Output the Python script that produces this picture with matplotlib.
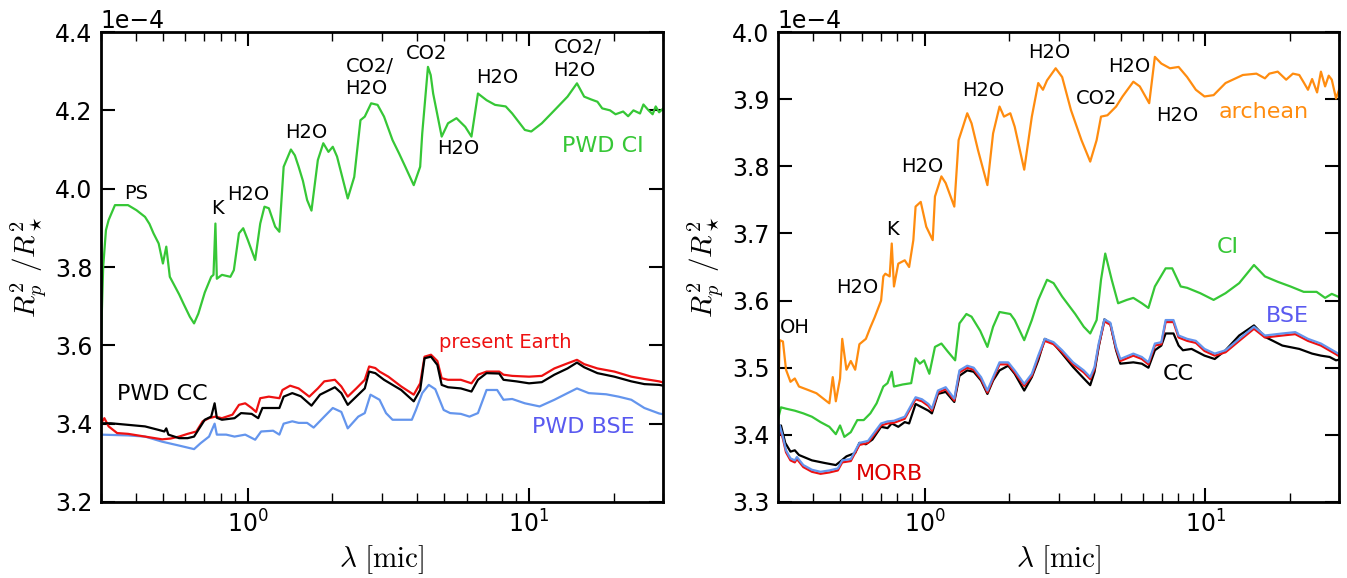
import matplotlib
matplotlib.use("Agg")
import matplotlib.pyplot as plt
from matplotlib.ticker import NullFormatter, MultipleLocator

# ---------------- data (wavelength in micron, transit depth in units of 1e-4) -------------
# Left panel
pwd_ci_wl = [0.300, 0.306, 0.313, 0.320, 0.337, 0.375, 0.402, 0.431, 0.447, 0.462, 0.482,
             0.499, 0.513, 0.528, 0.551, 0.570, 0.590, 0.622, 0.644, 0.667, 0.703, 0.741,
             0.755, 0.767, 0.776, 0.809, 0.867, 0.892, 0.930, 0.963, 1.0, 1.062,
             1.107, 1.146, 1.188, 1.251, 1.295, 1.341, 1.423, 1.47, 1.516, 1.57, 1.625, 1.684,
             1.774, 1.855, 1.935, 2.005, 2.076, 2.266, 2.39, 2.515, 2.605, 2.745,
             2.893, 3.05, 3.27, 3.45, 3.63, 3.89, 4.10, 4.17, 4.37, 4.47, 4.56, 4.89,
             5.15, 5.52, 5.93, 6.24, 6.58, 7.06, 7.57, 8.26, 8.71, 9.66,
             10.18, 11.1, 12.3, 13.7, 14.8, 15.7, 16.6, 17.5, 18.2, 19.4,
             20.3, 21.6, 22.5, 23.5, 24.8, 25.5, 26.6, 27.5, 28.2, 29.0, 30.0]
pwd_ci_val = [3.59, 3.80, 3.894, 3.92, 3.958, 3.958, 3.945, 3.928, 3.91, 3.886, 3.86,
              3.809, 3.852, 3.775, 3.75, 3.73, 3.707, 3.673, 3.656, 3.681, 3.735, 3.775,
              3.78, 3.911, 3.77, 3.78, 3.775, 3.792, 3.886, 3.899, 3.869, 3.818,
              3.911, 3.954, 3.95, 3.903, 3.89, 4.056, 4.10, 4.085, 4.056, 4.02, 3.971, 3.944,
              4.073, 4.116, 4.094, 4.107, 4.082, 3.975, 4.03, 4.175, 4.184, 4.218,
              4.214, 4.184, 4.124, 4.09, 4.056, 4.009, 4.056, 4.141, 4.311, 4.29, 4.243, 4.133,
              4.167, 4.18, 4.158, 4.133, 4.243, 4.226, 4.214, 4.21, 4.192, 4.15,
              4.146, 4.167, 4.20, 4.235, 4.269, 4.235, 4.228, 4.222, 4.205, 4.20,
              4.19, 4.197, 4.185, 4.20, 4.192, 4.215, 4.20, 4.19, 4.21, 4.195, 4.205]

earth_wl = [0.300, 0.309, 0.320, 0.343, 0.375, 0.431, 0.496, 0.531, 0.570, 0.611,
            0.656, 0.691, 0.728, 0.767, 0.809, 0.882, 0.930, 0.979, 1.032, 1.07,
            1.107, 1.188, 1.295, 1.328, 1.414, 1.516, 1.654, 1.774, 1.870, 2.04,
            2.15, 2.266, 2.43, 2.605, 2.70, 2.84, 2.94, 3.16, 3.51, 3.89,
            4.10, 4.25, 4.48, 4.72, 4.89, 5.15, 5.72, 6.24, 6.58, 7.06,
            7.83, 8.11, 8.71, 10.0, 11.1, 12.3, 13.7, 14.8, 15.7, 17.5,
            20.1, 23.1, 25.7, 29.0, 30.0]
earth_val = [3.40, 3.414, 3.393, 3.376, 3.374, 3.367, 3.36, 3.362, 3.367, 3.374,
             3.38, 3.406, 3.414, 3.418, 3.414, 3.423, 3.448, 3.452, 3.44, 3.43,
             3.465, 3.469, 3.465, 3.486, 3.497, 3.49, 3.469, 3.49, 3.508, 3.512,
             3.495, 3.469, 3.49, 3.512, 3.546, 3.542, 3.533, 3.52, 3.495, 3.474,
             3.503, 3.571, 3.576, 3.56, 3.516, 3.512, 3.512, 3.503, 3.525, 3.533,
             3.533, 3.525, 3.522, 3.52, 3.522, 3.541, 3.554, 3.563, 3.552, 3.541,
             3.533, 3.52, 3.514, 3.508, 3.505]

pwd_cc_wl = [0.300, 0.326, 0.375, 0.431, 0.482, 0.505, 0.513, 0.522, 0.570, 0.611,
             0.644, 0.679, 0.703, 0.741, 0.762, 0.776, 0.809, 0.897, 0.946, 1.032,
             1.089, 1.127, 1.23, 1.295, 1.341, 1.439, 1.543, 1.684, 1.806, 2.04,
             2.15, 2.266, 2.47, 2.605, 2.70, 2.84, 3.05, 3.51, 3.89, 4.10,
             4.25, 4.48, 4.72, 4.89, 5.15, 5.72, 6.24, 6.58, 7.06, 7.83,
             8.11, 9.01, 10.0, 11.1, 12.3, 13.7, 14.8, 15.7, 17.5, 20.1,
             23.1, 25.7, 29.0, 30.0]
pwd_cc_val = [3.401, 3.401, 3.397, 3.393, 3.384, 3.38, 3.388, 3.372, 3.363, 3.363,
              3.367, 3.393, 3.41, 3.418, 3.452, 3.415, 3.41, 3.414, 3.427, 3.425,
              3.414, 3.44, 3.44, 3.44, 3.469, 3.478, 3.47, 3.446, 3.474, 3.493,
              3.478, 3.448, 3.474, 3.49, 3.533, 3.529, 3.512, 3.486, 3.457, 3.486,
              3.567, 3.571, 3.55, 3.499, 3.493, 3.49, 3.482, 3.512, 3.529, 3.528,
              3.512, 3.508, 3.503, 3.506, 3.525, 3.541, 3.556, 3.544, 3.529, 3.52,
              3.508, 3.501, 3.499, 3.497]

pwd_bse_wl = [0.300, 0.375, 0.431, 0.496, 0.570, 0.644, 0.679, 0.728, 0.762, 0.776,
              0.838, 0.897, 0.979, 1.062, 1.115, 1.23, 1.295, 1.341, 1.439, 1.516,
              1.625, 1.714, 1.870, 2.005, 2.15, 2.266, 2.47, 2.605, 2.73, 2.94,
              3.10, 3.27, 3.57, 3.83, 3.96, 4.17, 4.40, 4.64, 4.97, 5.24,
              5.72, 6.14, 6.58, 7.06, 7.70, 8.11, 8.71, 9.66, 10.9, 12.3,
              13.7, 14.8, 16.3, 18.8, 20.8, 23.1, 25.7, 29.0, 30.0]
pwd_bse_val = [3.372, 3.37, 3.367, 3.354, 3.344, 3.335, 3.35, 3.367, 3.40, 3.372,
               3.372, 3.367, 3.372, 3.359, 3.38, 3.382, 3.372, 3.40, 3.406, 3.402,
               3.402, 3.39, 3.418, 3.44, 3.43, 3.388, 3.418, 3.427, 3.474, 3.461,
               3.427, 3.41, 3.41, 3.41, 3.435, 3.478, 3.499, 3.488, 3.435, 3.427,
               3.425, 3.418, 3.427, 3.486, 3.486, 3.461, 3.463, 3.452, 3.444, 3.461,
               3.478, 3.49, 3.478, 3.475, 3.469, 3.461, 3.44, 3.426, 3.424]

# Right panel
archean_wl = [0.300, 0.305, 0.313, 0.321, 0.333, 0.345, 0.357, 0.384, 0.412, 0.442,
              0.458, 0.471, 0.483, 0.500, 0.509, 0.527, 0.546, 0.566, 0.586, 0.618,
              0.641, 0.664, 0.700, 0.713, 0.725, 0.751, 0.764, 0.778, 0.806, 0.850,
              0.881, 0.912, 0.929, 0.969, 1.014, 1.069, 1.089, 1.148, 1.189, 1.276,
              1.322, 1.370, 1.419, 1.470, 1.550, 1.674, 1.754, 1.849, 1.918, 2.02,
              2.094, 2.264, 2.41, 2.54, 2.64, 2.73, 2.93, 3.09, 3.32, 3.62,
              3.89, 4.10, 4.25, 4.48, 4.81, 5.07, 5.54, 5.84, 6.31, 6.61,
              6.97, 7.48, 8.03, 8.61, 9.25, 9.93, 10.7, 11.8, 13.6, 15.2,
              16.3, 16.9, 18.1, 19.4, 20.5, 21.6, 22.4, 23.2, 24.0, 25.0,
              25.8, 26.7, 27.5, 28.2, 29.2, 30.0]
archean_val = [3.44, 3.541, 3.539, 3.497, 3.479, 3.484, 3.472, 3.467, 3.462, 3.452,
               3.447, 3.486, 3.45, 3.484, 3.543, 3.497, 3.51, 3.497, 3.535, 3.543,
               3.56, 3.575, 3.60, 3.636, 3.64, 3.636, 3.685, 3.621, 3.655, 3.66,
               3.65, 3.69, 3.74, 3.747, 3.71, 3.69, 3.755, 3.785, 3.775, 3.74,
               3.839, 3.859, 3.879, 3.864, 3.824, 3.772, 3.849, 3.889, 3.874, 3.879,
               3.859, 3.795, 3.874, 3.924, 3.914, 3.928, 3.946, 3.933, 3.884, 3.839,
               3.807, 3.839, 3.874, 3.876, 3.889, 3.904, 3.926, 3.919, 3.894, 3.963,
               3.953, 3.946, 3.948, 3.933, 3.914, 3.904, 3.906, 3.924, 3.936, 3.938,
               3.931, 3.938, 3.941, 3.929, 3.938, 3.936, 3.925, 3.914, 3.93, 3.91,
               3.941, 3.919, 3.935, 3.929, 3.901, 3.915]

ci_wl = [0.300, 0.308, 0.321, 0.345, 0.370, 0.397, 0.426, 0.458, 0.483, 0.500,
         0.518, 0.546, 0.576, 0.607, 0.641, 0.675, 0.713, 0.738, 0.764, 0.778,
         0.835, 0.896, 0.929, 0.962, 0.996, 1.040, 1.089, 1.148, 1.210, 1.285,
         1.331, 1.409, 1.470, 1.578, 1.674, 1.754, 1.849, 2.02, 2.094, 2.264,
         2.41, 2.54, 2.73, 2.88, 3.09, 3.44, 3.69, 3.89, 4.10, 4.25,
         4.40, 4.64, 4.89, 5.25, 5.54, 5.94, 6.27, 6.61, 7.22, 7.62,
         8.17, 8.61, 9.59, 10.7, 11.8, 13.2, 14.9, 16.3, 18.1, 20.1,
         22.4, 24.9, 26.7, 28.2, 30.0]
ci_val = [3.422, 3.441, 3.439, 3.436, 3.432, 3.427, 3.419, 3.412, 3.401, 3.414,
          3.397, 3.404, 3.422, 3.422, 3.432, 3.447, 3.472, 3.477, 3.494, 3.472,
          3.475, 3.477, 3.514, 3.506, 3.511, 3.491, 3.531, 3.536, 3.524, 3.511,
          3.566, 3.58, 3.576, 3.555, 3.531, 3.561, 3.583, 3.58, 3.571, 3.541,
          3.571, 3.601, 3.631, 3.626, 3.606, 3.58, 3.561, 3.551, 3.571, 3.631,
          3.67, 3.631, 3.596, 3.601, 3.604, 3.596, 3.589, 3.621, 3.648, 3.648,
          3.621, 3.619, 3.611, 3.601, 3.611, 3.626, 3.653, 3.636, 3.628, 3.621,
          3.613, 3.613, 3.604, 3.61, 3.605]

cc_wl = [0.300, 0.308, 0.319, 0.333, 0.345, 0.357, 0.397, 0.442, 0.483, 0.500,
         0.527, 0.566, 0.586, 0.618, 0.652, 0.700, 0.738, 0.764, 0.806, 0.850,
         0.881, 0.929, 0.979, 1.032, 1.062, 1.116, 1.189, 1.276, 1.331, 1.419,
         1.496, 1.589, 1.674, 1.754, 1.849, 1.986, 2.094, 2.264, 2.41, 2.54,
         2.68, 2.88, 3.09, 3.38, 3.69, 3.89, 4.03, 4.17, 4.37, 4.59,
         4.81, 4.98, 5.54, 5.94, 6.27, 6.61, 6.97, 7.22, 7.70, 8.03,
         8.32, 8.93, 9.93, 10.8, 11.8, 13.2, 14.9, 16.3, 18.8, 21.6,
         24.0, 25.8, 27.7, 29.2, 30.0]
cc_val = [3.407, 3.414, 3.388, 3.375, 3.377, 3.370, 3.362, 3.358, 3.355, 3.36,
          3.368, 3.373, 3.388, 3.386, 3.393, 3.412, 3.41, 3.417, 3.412, 3.419,
          3.417, 3.446, 3.441, 3.436, 3.432, 3.461, 3.464, 3.449, 3.488, 3.496,
          3.494, 3.481, 3.461, 3.481, 3.496, 3.503, 3.491, 3.466, 3.486, 3.511,
          3.543, 3.536, 3.521, 3.501, 3.484, 3.474, 3.494, 3.531, 3.572, 3.565,
          3.526, 3.506, 3.508, 3.506, 3.500, 3.526, 3.533, 3.551, 3.551, 3.533,
          3.526, 3.528, 3.518, 3.513, 3.526, 3.548, 3.563, 3.546, 3.533, 3.528,
          3.521, 3.518, 3.516, 3.511, 3.512]

bse_wl = [0.300, 0.305, 0.313, 0.321, 0.333, 0.345, 0.351, 0.370, 0.397, 0.426,
          0.458, 0.491, 0.509, 0.546, 0.586, 0.629, 0.700, 0.738, 0.778, 0.850,
          0.929, 0.979, 1.032, 1.062, 1.116, 1.189, 1.276, 1.331, 1.419, 1.496,
          1.589, 1.674, 1.754, 1.849, 1.986, 2.094, 2.264, 2.41, 2.54, 2.68,
          2.88, 3.09, 3.38, 3.69, 3.89, 4.03, 4.17, 4.37, 4.59, 4.81,
          4.98, 5.54, 5.94, 6.27, 6.61, 6.97, 7.22, 7.70, 8.03, 8.61,
          9.25, 9.93, 10.8, 11.8, 13.2, 14.9, 16.3, 18.8, 20.9, 23.2,
          25.8, 29.2, 30.0]
bse_val = [3.383, 3.414, 3.397, 3.377, 3.365, 3.362, 3.367, 3.355, 3.348, 3.345,
           3.347, 3.35, 3.362, 3.364, 3.388, 3.391, 3.417, 3.42, 3.421, 3.427,
           3.456, 3.453, 3.446, 3.439, 3.466, 3.471, 3.454, 3.496, 3.503, 3.50,
           3.486, 3.466, 3.486, 3.508, 3.508, 3.496, 3.476, 3.491, 3.518, 3.543,
           3.538, 3.526, 3.508, 3.496, 3.486, 3.501, 3.536, 3.572, 3.567, 3.531,
           3.513, 3.521, 3.516, 3.508, 3.536, 3.538, 3.571, 3.571, 3.548, 3.543,
           3.54, 3.528, 3.521, 3.526, 3.543, 3.561, 3.548, 3.551, 3.553, 3.543,
           3.536, 3.523, 3.52]

morb_wl = bse_wl
morb_val = [3.381, 3.411, 3.394, 3.374, 3.362, 3.359, 3.364, 3.352, 3.345, 3.342,
            3.344, 3.347, 3.359, 3.361, 3.385, 3.388, 3.414, 3.417, 3.418, 3.424,
            3.453, 3.450, 3.443, 3.436, 3.463, 3.468, 3.451, 3.493, 3.500, 3.497,
            3.483, 3.463, 3.483, 3.505, 3.505, 3.493, 3.473, 3.488, 3.515, 3.540,
            3.535, 3.523, 3.505, 3.493, 3.483, 3.498, 3.533, 3.569, 3.564, 3.528,
            3.510, 3.518, 3.513, 3.505, 3.533, 3.535, 3.568, 3.568, 3.545, 3.540,
            3.537, 3.525, 3.518, 3.523, 3.540, 3.558, 3.545, 3.548, 3.550, 3.540,
            3.533, 3.520, 3.517]

SCALE = 1e-4

GREEN = "#36c736"
RED = "#ee1111"
BLUE = "#6495ed"
ORANGE = "#ff8c0f"
TXT_BLUE = "#5a5af0"

fig = plt.figure(figsize=(13.47, 5.78), dpi=100)
axL = fig.add_axes([0.0748, 0.1315, 0.4176, 0.8131])
axR = fig.add_axes([0.5774, 0.1315, 0.4169, 0.8131])


def sc(v):
    return [x * SCALE for x in v]


LW = 1.6
axL.plot(pwd_ci_wl, sc(pwd_ci_val), color=GREEN, lw=LW)
axL.plot(pwd_bse_wl, sc(pwd_bse_val), color=BLUE, lw=LW)
axL.plot(earth_wl, sc(earth_val), color=RED, lw=LW)
axL.plot(pwd_cc_wl, sc(pwd_cc_val), color="black", lw=LW)

axR.plot(archean_wl, sc(archean_val), color=ORANGE, lw=LW)
axR.plot(ci_wl, sc(ci_val), color=GREEN, lw=LW)
axR.plot(cc_wl, sc(cc_val), color="black", lw=LW)
axR.plot(morb_wl, sc(morb_val), color=RED, lw=LW)
axR.plot(bse_wl, sc(bse_val), color=BLUE, lw=LW)

for ax, ylim, step in ((axL, (3.2, 4.4), 0.2), (axR, (3.3, 4.0), 0.1)):
    ax.set_xscale("log")
    ax.set_xlim(0.3, 30)
    ax.set_ylim(ylim[0] * SCALE, ylim[1] * SCALE)
    ax.yaxis.set_major_locator(MultipleLocator(step * SCALE))
    ax.ticklabel_format(axis="y", style="sci", scilimits=(0, 0), useOffset=False)
    ax.yaxis.get_offset_text().set_fontsize(17)
    ax.xaxis.set_minor_formatter(NullFormatter())
    ax.tick_params(which="both", direction="in", top=True, right=True, labelsize=17)
    ax.tick_params(which="major", length=10, width=1.5, pad=6)
    ax.tick_params(which="minor", length=6.5, width=1.0)
    for s in ax.spines.values():
        s.set_linewidth(2.0)
    ax.set_xlabel(r"$\lambda\ [\mathrm{mic}]$", fontsize=21, math_fontfamily="cm")
    ax.set_ylabel(r"$R_p^2\ /R_\star^2$", fontsize=21, math_fontfamily="cm")

TS = 14
CS = 16


def note(ax, x, y, s, color="black", size=TS, ha="center", **kw):
    ax.text(x, y * SCALE, s, color=color, fontsize=size, ha=ha, va="center", **kw)


# left annotations
note(axL, 0.402, 3.988, "PS")
note(axL, 0.78, 3.95, "K")
note(axL, 1.007, 3.986, "H2O")
note(axL, 1.609, 4.144, "H2O")
note(axL, 2.227, 4.284, "CO2/\nH2O", ha="left", multialignment="left", linespacing=1.25)
note(axL, 4.32, 4.344, "CO2")
note(axL, 5.58, 4.103, "H2O")
note(axL, 7.73, 4.284, "H2O")
note(axL, 12.21, 4.331, "CO2/\nH2O", ha="left", multialignment="left", linespacing=1.25)
note(axL, 18.3, 4.109, "PWD CI", color=GREEN, size=CS)
note(axL, 8.22, 3.608, "present Earth", color=RED, size=14)
note(axL, 0.496, 3.475, "PWD CC", size=CS)
note(axL, 15.65, 3.391, "PWD BSE", color=TXT_BLUE, size=CS)

# right annotations
note(axR, 2.78, 3.970, "H2O")
note(axR, 1.623, 3.913, "H2O")
note(axR, 0.979, 3.799, "H2O")
note(axR, 0.770, 3.706, "K")
note(axR, 0.576, 3.620, "H2O")
note(axR, 4.10, 3.901, "CO2")
note(axR, 5.37, 3.948, "H2O")
note(axR, 7.92, 3.875, "H2O")
note(axR, 16.2, 3.881, "archean", color=ORANGE, size=CS)
note(axR, 12.06, 3.680, "CI", color=GREEN, size=CS)
note(axR, 0.346, 3.560, "OH")
note(axR, 19.6, 3.577, "BSE", color=TXT_BLUE, size=CS)
note(axR, 8.03, 3.491, "CC", size=CS)
note(axR, 0.751, 3.342, "MORB", color="#dd0000", size=CS)

fig.savefig("out.png", dpi=100)
